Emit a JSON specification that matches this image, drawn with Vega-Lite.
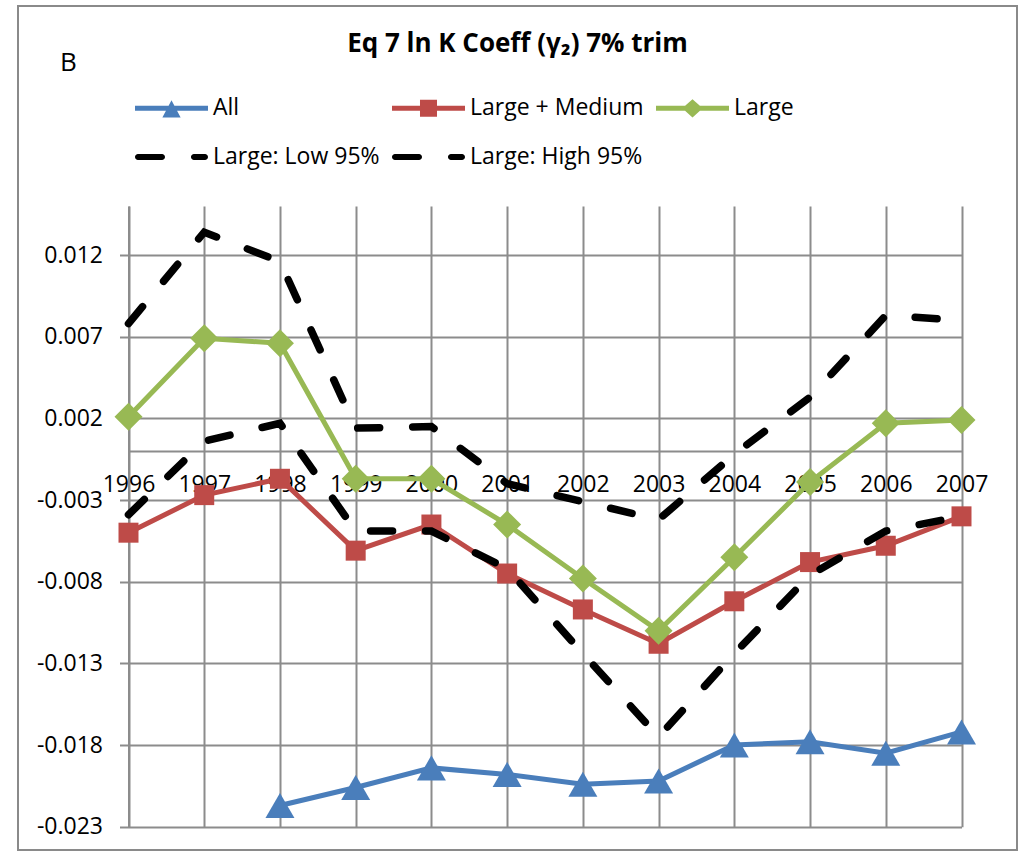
{
  "$schema": "https://vega.github.io/schema/vega-lite/v6.json",
  "width": 999,
  "height": 844,
  "autosize": {"type": "none"},
  "padding": {"left": 18, "top": 6, "right": 7, "bottom": 6},
  "background": "white",
  "title": {
    "text": "Eq 7 ln K Coeff (γ₂) 7% trim",
    "font": "Open Sans",
    "fontSize": 26,
    "fontWeight": "bold",
    "color": "black",
    "anchor": "middle",
    "frame": "group",
    "baseline": "alphabetic",
    "offset": -72
  },
  "config": {
    "view": {"stroke": "#8a8a8a", "strokeWidth": 2},
    "font": "Open Sans"
  },
  "data": {
    "values": [
      {"year": 1998, "series": "All", "value": -0.0217},
      {"year": 1999, "series": "All", "value": -0.0206},
      {"year": 2000, "series": "All", "value": -0.0194},
      {"year": 2001, "series": "All", "value": -0.0198},
      {"year": 2002, "series": "All", "value": -0.0204},
      {"year": 2003, "series": "All", "value": -0.0202},
      {"year": 2004, "series": "All", "value": -0.0180},
      {"year": 2005, "series": "All", "value": -0.0178},
      {"year": 2006, "series": "All", "value": -0.0185},
      {"year": 2007, "series": "All", "value": -0.0172},
      {"year": 1996, "series": "Large + Medium", "value": -0.0050},
      {"year": 1997, "series": "Large + Medium", "value": -0.0027},
      {"year": 1998, "series": "Large + Medium", "value": -0.0017},
      {"year": 1999, "series": "Large + Medium", "value": -0.0061},
      {"year": 2000, "series": "Large + Medium", "value": -0.0045},
      {"year": 2001, "series": "Large + Medium", "value": -0.0075},
      {"year": 2002, "series": "Large + Medium", "value": -0.0097},
      {"year": 2003, "series": "Large + Medium", "value": -0.0118},
      {"year": 2004, "series": "Large + Medium", "value": -0.0092},
      {"year": 2005, "series": "Large + Medium", "value": -0.0068},
      {"year": 2006, "series": "Large + Medium", "value": -0.0058},
      {"year": 2007, "series": "Large + Medium", "value": -0.0040},
      {"year": 1996, "series": "Large", "value": 0.0021},
      {"year": 1997, "series": "Large", "value": 0.0069},
      {"year": 1998, "series": "Large", "value": 0.0066},
      {"year": 1999, "series": "Large", "value": -0.0017},
      {"year": 2000, "series": "Large", "value": -0.0017},
      {"year": 2001, "series": "Large", "value": -0.0045},
      {"year": 2002, "series": "Large", "value": -0.0078},
      {"year": 2003, "series": "Large", "value": -0.0110},
      {"year": 2004, "series": "Large", "value": -0.0065},
      {"year": 2005, "series": "Large", "value": -0.0019},
      {"year": 2006, "series": "Large", "value": 0.0017},
      {"year": 2007, "series": "Large", "value": 0.0019},
      {"year": 1996, "series": "Large: Low 95%", "value": -0.0039},
      {"year": 1997, "series": "Large: Low 95%", "value": 0.0006},
      {"year": 1998, "series": "Large: Low 95%", "value": 0.0017},
      {"year": 1999, "series": "Large: Low 95%", "value": -0.0049},
      {"year": 2000, "series": "Large: Low 95%", "value": -0.0049},
      {"year": 2001, "series": "Large: Low 95%", "value": -0.0072},
      {"year": 2002, "series": "Large: Low 95%", "value": -0.0124},
      {"year": 2003, "series": "Large: Low 95%", "value": -0.0175},
      {"year": 2004, "series": "Large: Low 95%", "value": -0.0124},
      {"year": 2005, "series": "Large: Low 95%", "value": -0.0076},
      {"year": 2006, "series": "Large: Low 95%", "value": -0.0049},
      {"year": 2007, "series": "Large: Low 95%", "value": -0.0040},
      {"year": 1996, "series": "Large: High 95%", "value": 0.0078},
      {"year": 1997, "series": "Large: High 95%", "value": 0.0134},
      {"year": 1998, "series": "Large: High 95%", "value": 0.0116},
      {"year": 1999, "series": "Large: High 95%", "value": 0.0014},
      {"year": 2000, "series": "Large: High 95%", "value": 0.0015},
      {"year": 2001, "series": "Large: High 95%", "value": -0.0020},
      {"year": 2002, "series": "Large: High 95%", "value": -0.0031},
      {"year": 2003, "series": "Large: High 95%", "value": -0.0042},
      {"year": 2004, "series": "Large: High 95%", "value": -0.0002},
      {"year": 2005, "series": "Large: High 95%", "value": 0.0033},
      {"year": 2006, "series": "Large: High 95%", "value": 0.0083},
      {"year": 2007, "series": "Large: High 95%", "value": 0.0080}
    ]
  },
  "encoding": {
    "x": {
      "field": "year",
      "type": "quantitative",
      "scale": {"domain": [1996, 2007], "range": [110.5, 943.5], "nice": false, "zero": false},
      "axis": {
        "orient": "top",
        "offset": -445,
        "values": [1996, 1997, 1998, 1999, 2000, 2001, 2002, 2003, 2004, 2005, 2006, 2007],
        "format": "d",
        "labelFont": "Open Sans",
        "labelFontSize": 23,
        "labelColor": "black",
        "labelBaseline": "top",
        "labelPadding": -22,
        "labelFlush": false,
        "labelOverlap": false,
        "ticks": false,
        "domainColor": "#8c8c8c",
        "domainWidth": 2,
        "grid": true,
        "gridColor": "#8c8c8c",
        "gridWidth": 2,
        "gridOpacity": 1,
        "title": null
      }
    },
    "y": {
      "field": "value",
      "type": "quantitative",
      "scale": {"domain": [-0.023, 0.015], "range": [820.7, 200], "nice": false, "zero": false},
      "axis": {
        "orient": "left",
        "offset": -110.5,
        "values": [-0.023, -0.018, -0.013, -0.008, -0.003, 0.002, 0.007, 0.012],
        "labelExpr": "replace(format(datum.value, '.3f'), '−', '-')",
        "labelFont": "Open Sans",
        "labelFontSize": 23,
        "labelColor": "black",
        "labelPadding": 17,
        "labelFlush": false,
        "labelOverlap": false,
        "tickSize": 9,
        "tickColor": "#8c8c8c",
        "tickWidth": 2,
        "domainColor": "#8c8c8c",
        "domainWidth": 2,
        "grid": true,
        "gridColor": "#8c8c8c",
        "gridWidth": 2,
        "gridOpacity": 1,
        "title": "B",
        "titleAngle": 0,
        "titleX": -60.5,
        "titleY": 64,
        "titleAlign": "center",
        "titleBaseline": "alphabetic",
        "titleFont": "Open Sans",
        "titleFontSize": 26,
        "titleFontWeight": "normal",
        "titleColor": "black"
      }
    },
    "color": {
      "field": "series",
      "type": "nominal",
      "scale": {
        "domain": ["All", "Large + Medium", "Large", "Large: Low 95%", "Large: High 95%"],
        "range": ["#4A7EBB", "#BE4B48", "#98B954", "#000000", "#000000"]
      },
      "legend": {
        "title": null,
        "orient": "none",
        "legendX": 117,
        "legendY": 65.5,
        "direction": "horizontal",
        "columns": 3,
        "columnPadding": 12,
        "rowPadding": -24,
        "padding": 0,
        "symbolSize": 5329,
        "symbolStrokeWidth": 0,
        "labelFont": "Open Sans",
        "labelFontSize": 23,
        "labelColor": "black",
        "labelLimit": 400,
        "labelOffset": 5,
        "encode": {
          "symbols": {
            "update": {
              "shape": {"signal": "datum.value === 'All' ? 'M-1,-0.068H1V0.068H-1Z M0,-0.22L0.25,0.25H-0.25Z' : datum.value === 'Large + Medium' ? 'M-1,-0.068H1V0.068H-1Z M-0.233,-0.233H0.233V0.233H-0.233Z' : datum.value === 'Large' ? 'M-1,-0.068H1V0.068H-1Z M0,-0.25L0.28,0L0,0.25L-0.28,0Z' : 'M-0.918,-0.082H-0.26A0.082,0.082 0 0 1 -0.26,0.082H-0.918A0.082,0.082 0 0 1 -0.918,-0.082Z M0.616,-0.082H0.918A0.082,0.082 0 0 1 0.918,0.082H0.616A0.082,0.082 0 0 1 0.616,-0.082Z'"},
              "fill": {"scale": "color", "field": "value"},
              "stroke": {"value": "transparent"},
              "strokeWidth": {"value": 0},
              "opacity": {"value": 1}
            }
          }
        }
      }
    }
  },
  "layer": [
    {
      "transform": [{"filter": "indexof(datum.series, '95%') < 0"}],
      "mark": {"type": "line", "strokeWidth": 5}
    },
    {
      "transform": [{"filter": "indexof(datum.series, '95%') < 0"}],
      "mark": {"type": "point", "filled": true, "opacity": 1},
      "encoding": {
        "shape": {
          "field": "series",
          "type": "nominal",
          "scale": {"domain": ["All", "Large + Medium", "Large"], "range": ["triangle-up", "square", "diamond"]},
          "legend": null
        },
        "size": {
          "field": "series",
          "type": "nominal",
          "scale": {"type": "ordinal", "domain": ["All", "Large + Medium", "Large"], "range": [841, 400, 784]},
          "legend": null
        }
      }
    },
    {
      "transform": [{"filter": "indexof(datum.series, '95%') >= 0"}],
      "mark": {"type": "line", "strokeWidth": 7.5, "strokeDash": [22, 33], "strokeCap": "round"}
    }
  ]
}
